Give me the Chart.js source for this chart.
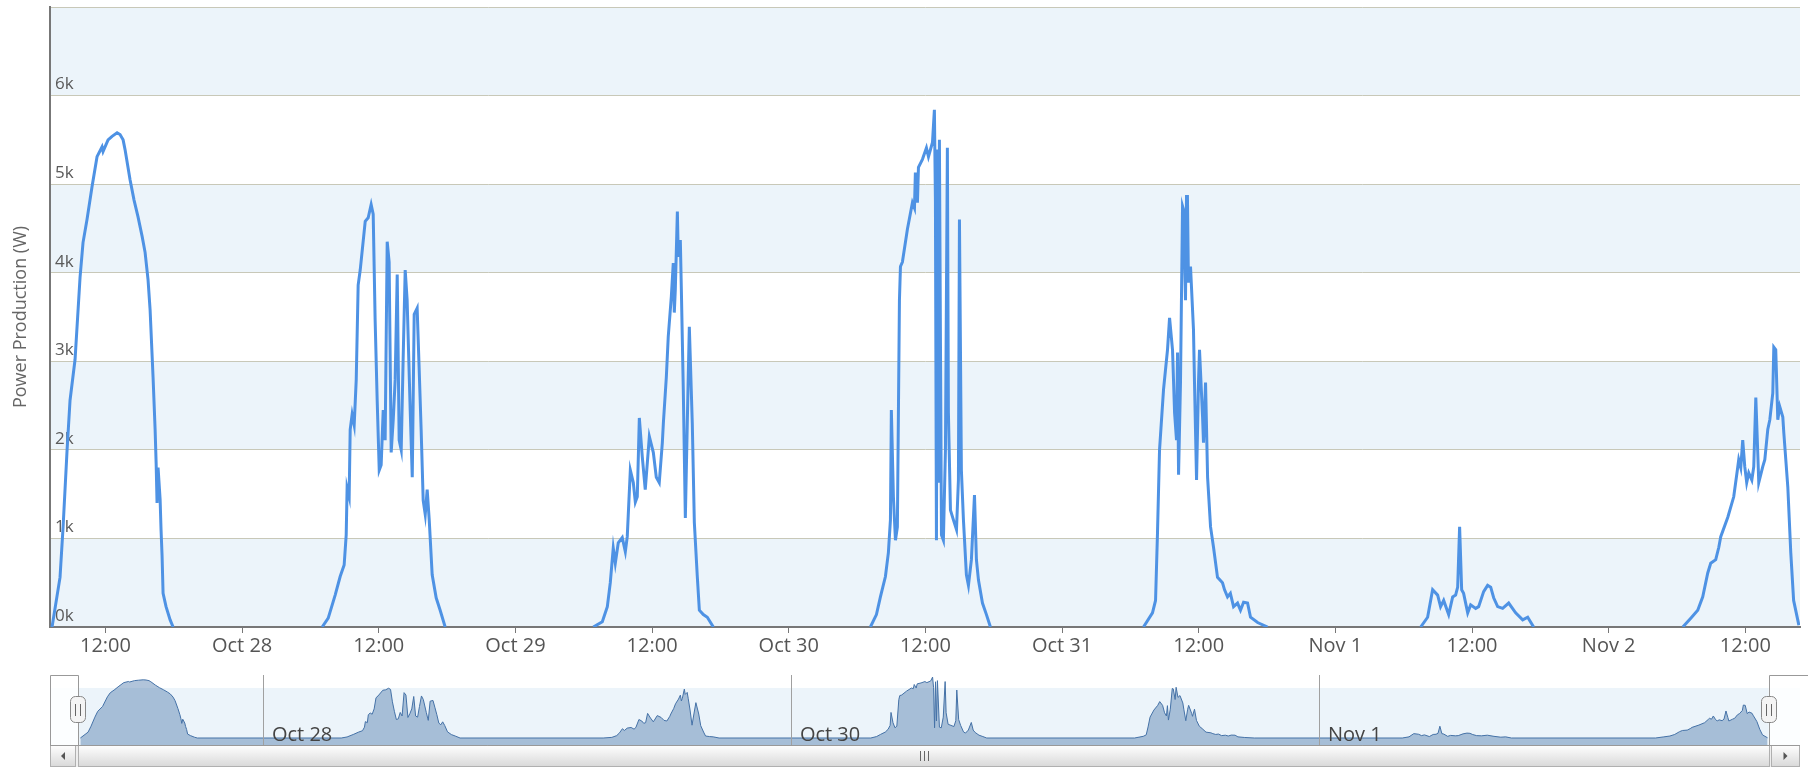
<!DOCTYPE html>
<html>
<head>
<meta charset="utf-8">
<script src="https://cdn.jsdelivr.net/npm/chart.js@4.4.0/dist/chart.umd.min.js"></script>
<style>
  body { margin: 0; background: #fff; }
  #main { position: absolute; left: 0; top: 0; }
  #nav { position: absolute; left: 0; top: 665px; }
</style>
</head>
<body>
<canvas id="main" width="1808" height="665"></canvas>
<canvas id="nav" width="1808" height="102"></canvas>
<script>
// one array per day: [hour of day, watts]
const dayLabels = ['Oct 27', 'Oct 28', 'Oct 29', 'Oct 30', 'Oct 31', 'Nov 1', 'Nov 2'];

const oct27 = [[7.31,0],[8.01,560],[8.28,1130],[8.63,2000],[8.89,2560],[9.33,3020],[9.77,3950],[10.03,4340],
  [10.38,4600],[10.82,4970],[11.26,5310],[11.70,5420],[11.79,5370],[12.23,5500],[12.58,5540],[13.02,5580],
  [13.28,5560],[13.55,5500],[13.72,5390],[14.16,5050],[14.51,4820],[14.86,4630],[15.22,4410],[15.48,4230],
  [15.74,3920],[15.92,3580],[16.18,2820],[16.36,2230],[16.45,1850],[16.53,1400],[16.62,1800],[16.80,1440],
  [16.88,1100],[16.97,810],[17.06,380],[17.32,230],[17.68,80],[17.94,0]];

const oct28 = [[7.03,0],[7.56,100],[8.17,360],[8.61,570],[8.96,700],[9.14,1040],[9.22,1570],[9.40,1470],
  [9.49,2230],[9.66,2400],[9.84,2280],[10.02,2790],[10.19,3860],[10.37,4030],[10.81,4580],[11.07,4620],
  [11.33,4770],[11.51,4660],[11.68,3470],[11.86,2560],[12.04,1770],[12.21,1830],[12.39,2450],[12.56,2110],
  [12.74,4350],[12.91,4120],[13.09,1970],[13.27,2340],[13.44,2790],[13.62,3980],[13.79,2110],[13.97,2000],
  [14.14,3020],[14.32,4030],[14.49,3690],[14.76,2450],[14.94,1690],[15.11,3530],[15.37,3600],[15.55,2900],
  [15.72,2230],[15.90,1430],[16.08,1270],[16.25,1550],[16.43,1210],[16.69,590],[17.04,330],[17.39,190],[17.83,0]];

const oct29 = [[6.84,0],[7.63,60],[8.07,230],[8.33,500],[8.59,890],[8.77,720],[9.03,950],[9.38,1010],
  [9.65,850],[9.82,1020],[10.09,1770],[10.35,1630],[10.53,1410],[10.70,1470],[10.88,2360],[11.14,1920],
  [11.40,1550],[11.76,2150],[12.11,1970],[12.37,1690],[12.63,1630],[12.90,2080],[12.99,2300],[13.25,2820],
  [13.42,3280],[13.69,3730],[13.86,4110],[13.95,3550],[14.04,3810],[14.22,4690],[14.30,4180],[14.48,4370],
  [14.57,3810],[14.74,2680],[14.92,1230],[15.09,2300],[15.27,3390],[15.53,2300],[15.71,1180],[15.97,570],
  [16.15,190],[16.50,140],[16.85,110],[17.38,0]];

const oct30 = [[7.17,0],[7.70,140],[8.05,340],[8.49,570],[8.75,840],[8.93,1210],[9.01,2450],[9.19,1470],
  [9.37,980],[9.54,1130],[9.72,3690],[9.81,4070],[9.98,4120],[10.42,4490],[10.86,4790],[11.04,4730],
  [11.12,5130],[11.30,4790],[11.39,5190],[11.74,5280],[12.09,5410],[12.27,5310],[12.62,5470],[12.79,5840],
  [12.88,4820],[12.97,980],[13.06,5390],[13.14,1630],[13.23,5500],[13.41,1040],[13.58,980],[13.76,2000],
  [13.93,5410],[14.02,2420],[14.20,1320],[14.46,1210],[14.73,1100],[14.90,1660],[14.99,4600],[15.16,1770],
  [15.34,1210],[15.60,590],[15.78,470],[16.04,760],[16.31,1490],[16.48,760],[16.66,530],[17.01,270],
  [17.36,140],[17.71,0]];

const oct31 = [[7.15,0],[7.94,160],[8.21,300],[8.38,1060],[8.56,2000],[8.91,2680],[9.26,3130],[9.44,3490],
  [9.70,3130],[9.88,2420],[10.05,2110],[10.14,3100],[10.23,1720],[10.40,2760],[10.58,4750],[10.67,4710],
  [10.84,3690],[10.93,4860],[11.01,4860],[11.10,3890],[11.28,4070],[11.54,3360],[11.63,2760],[11.81,1660],
  [11.98,2760],[12.07,3130],[12.34,2370],[12.42,2080],[12.60,2760],[12.78,1690],[13.04,1130],[13.30,900],
  [13.65,560],[14.09,500],[14.27,420],[14.53,340],[14.78,380],[15.06,230],[15.41,270],[15.67,190],
  [15.94,280],[16.29,270],[16.55,110],[17.17,50],[18.05,0]];

const nov1 = [[7.49,0],[8.10,110],[8.54,420],[8.98,360],[9.24,230],[9.51,300],[9.95,140],[10.30,340],
  [10.56,360],[10.74,450],[10.91,1130],[11.09,420],[11.26,380],[11.62,160],[11.88,250],[12.32,210],
  [12.58,230],[13.02,400],[13.37,470],[13.64,450],[13.90,330],[14.25,230],[14.69,210],[15.22,270],
  [15.83,160],[16.45,80],[16.89,110],[17.41,0]];

const nov2 = [[6.51,0],[7.21,100],[7.82,190],[8.26,340],[8.70,610],[8.96,720],[9.40,760],[9.67,900],
  [9.84,1020],[10.46,1240],[10.98,1470],[11.33,1800],[11.42,1890],[11.60,1800],[11.77,2110],[11.95,1810],
  [12.12,1630],[12.30,1740],[12.57,1660],[12.74,1810],[12.92,2590],[13.09,1970],[13.18,1630],[13.53,1810],
  [13.71,1890],[13.97,2230],[14.15,2340],[14.41,2640],[14.50,3160],[14.67,3130],[14.85,2340],[15.02,2490],
  [15.29,2370],[15.38,2190],[15.73,1580],[15.99,840],[16.24,300],[16.70,20]];

const days = [oct27, oct28, oct29, oct30, oct31, nov1, nov2];

// hours since Oct 27 00:00
const viewStart = 7.13, viewEnd = 160.8;
const navStart = 4.55, navEnd = 163.65;
const xTickHours = [12, 24, 36, 48, 60, 72, 84, 96, 108, 120, 132, 144, 156];
const navTickHours = [24, 72, 120];

Chart.defaults.font.family = "'Open Sans', 'Noto Sans', sans-serif";

const mainPoints = [];
const navPoints = [];
days.forEach((d, i) => {
    d.forEach(p => {
        mainPoints.push({x: i * 24 + p[0], y: p[1]});
        navPoints.push({x: i * 24 + p[0], y: p[1]});
    });
    mainPoints.push({x: i * 24 + 20, y: null});
});

const bandPlugin = {
    id: 'bands',
    beforeDraw(chart) {
        const {ctx, chartArea: a, scales: {y}} = chart;
        ctx.save();
        ctx.fillStyle = '#ecf4fa';
        for (let v = 0; v < y.max; v += 2000) {
            const top = y.getPixelForValue(v + 1000), bot = y.getPixelForValue(v);
            ctx.fillRect(a.left, top, a.right - a.left, bot - top);
        }
        ctx.restore();
    }
};

new Chart(document.getElementById('main'), {
    type: 'line',
    data: {
        datasets: [{
            data: mainPoints,
            borderColor: '#4e92e4',
            borderWidth: 3,
            pointRadius: 0,
            tension: 0,
            fill: false,
            spanGaps: false
        }]
    },
    options: {
        responsive: false,
        animation: false,
        events: [],
        layout: {padding: {top: 7, right: 8, left: 0, bottom: 0}},
        plugins: {legend: {display: false}, tooltip: {enabled: false}},
        scales: {
            x: {
                type: 'linear', min: viewStart, max: viewEnd,
                afterBuildTicks: s => { s.ticks = xTickHours.map(v => ({value: v})); },
                afterFit: s => { s.height = 38; s.paddingLeft = 0; s.paddingRight = 0; },
                grid: {drawOnChartArea: false, tickLength: 6, color: '#777'},
                border: {color: '#777', width: 2},
                ticks: {
                    color: '#555', font: {size: 20}, padding: 1, maxRotation: 0, autoSkip: false,
                    callback: v => v % 24 === 0 ? dayLabels[v / 24] : '12:00'
                }
            },
            y: {
                min: 0, max: 7000,
                afterFit: s => { s.width = 50; s.paddingTop = 0; s.paddingBottom = 0; },
                grid: {drawTicks: false, color: c => c.tick.value === 0 ? 'rgba(0,0,0,0)' : '#c8c8b8'},
                border: {color: '#777', width: 2},
                ticks: {
                    stepSize: 1000, mirror: true, padding: 5, labelOffset: -11,
                    color: '#5a5a5a', font: {size: 17},
                    callback: v => v >= 7000 ? '' : v / 1000 + 'k'
                },
                title: {display: true, text: 'Power Production (W)', color: '#666', font: {size: 18}, padding: {top: 10, bottom: 0}}
            }
        }
    },
    plugins: [bandPlugin]
});

const navPlugin = {
    id: 'navigator',
    beforeDraw(chart) {
        const {ctx, chartArea: a, scales: {y}} = chart;
        const top = y.getPixelForValue(4800);
        ctx.save();
        ctx.fillStyle = '#ecf4fa';
        ctx.fillRect(a.left, top, a.right - a.left, a.bottom - top);
        ctx.restore();
    },
    afterDatasetsDraw(chart) {
        const {ctx, chartArea: a, scales: {x}} = chart;
        const hl = x.getPixelForValue(viewStart), hr = x.getPixelForValue(viewEnd);
        ctx.save();
        ctx.fillStyle = 'rgba(255,255,255,0.85)';
        ctx.fillRect(a.left, a.top, hl - a.left, a.bottom - a.top);
        ctx.fillRect(hr, a.top, a.right - hr, a.bottom - a.top);
        ctx.restore();
    },
    afterDraw(chart) {
        const {ctx, chartArea: a, scales: {x}} = chart;
        const hl = Math.round(x.getPixelForValue(viewStart)), hr = Math.round(x.getPixelForValue(viewEnd));
        const sbTop = a.bottom, sbH = chart.height - a.bottom;
        ctx.save();
        // scrollbar track
        ctx.fillStyle = '#eeeeee';
        ctx.fillRect(a.left, sbTop, a.right - a.left, sbH);
        // thumb
        const g = ctx.createLinearGradient(0, sbTop, 0, sbTop + sbH);
        g.addColorStop(0, '#ffffff');
        g.addColorStop(1, '#d8d8d8');
        ctx.fillStyle = g;
        ctx.fillRect(hl, sbTop, hr - hl, sbH);
        ctx.strokeStyle = '#b0b0b0';
        ctx.lineWidth = 1;
        ctx.strokeRect(hl + 0.5, sbTop + 0.5, hr - hl, sbH - 1);
        // buttons
        [[a.left, hl - 2], [hr + 2, a.right]].forEach(([l, r]) => {
            ctx.fillStyle = g;
            ctx.fillRect(l, sbTop, r - l, sbH);
            ctx.strokeRect(l + 0.5, sbTop + 0.5, r - l - 1, sbH - 1);
        });
        ctx.fillStyle = '#555';
        const cy = sbTop + sbH / 2;
        const lx = (a.left + hl - 2) / 2, rx = (hr + 2 + a.right) / 2;
        ctx.beginPath();
        ctx.moveTo(lx - 2, cy); ctx.lineTo(lx + 2, cy - 4); ctx.lineTo(lx + 2, cy + 4); ctx.closePath();
        ctx.moveTo(rx + 2, cy); ctx.lineTo(rx - 2, cy - 4); ctx.lineTo(rx - 2, cy + 4); ctx.closePath();
        ctx.fill();
        // grip
        const mx = Math.round((hl + hr) / 2);
        ctx.strokeStyle = '#666';
        ctx.beginPath();
        [-4, 0, 4].forEach(d => { ctx.moveTo(mx + d + 0.5, cy - 5); ctx.lineTo(mx + d + 0.5, cy + 5); });
        ctx.stroke();
        // outline
        ctx.strokeStyle = '#999';
        ctx.beginPath();
        ctx.moveTo(a.left + 0.5, a.bottom);
        ctx.lineTo(a.left + 0.5, a.top + 0.5);
        ctx.lineTo(hl + 0.5, a.top + 0.5);
        ctx.lineTo(hl + 0.5, a.bottom);
        ctx.moveTo(a.left, a.bottom + 0.5);
        ctx.lineTo(a.right, a.bottom + 0.5);
        ctx.moveTo(hr + 0.5, a.bottom);
        ctx.lineTo(hr + 0.5, a.top + 0.5);
        ctx.lineTo(chart.width, a.top + 0.5);
        ctx.stroke();
        // handles
        const hy = (a.top + a.bottom) / 2;
        [hl, hr].forEach(hx => {
            ctx.beginPath();
            ctx.roundRect(hx - 7.5, hy - 13.5, 15, 26, 5);
            ctx.fillStyle = '#f4f4f4';
            ctx.fill();
            ctx.strokeStyle = '#888';
            ctx.stroke();
            ctx.beginPath();
            ctx.moveTo(hx - 2.5, hy - 6); ctx.lineTo(hx - 2.5, hy + 6);
            ctx.moveTo(hx + 2.5, hy - 6); ctx.lineTo(hx + 2.5, hy + 6);
            ctx.strokeStyle = '#666';
            ctx.stroke();
        });
        ctx.restore();
    }
};

new Chart(document.getElementById('nav'), {
    type: 'line',
    data: {
        datasets: [{
            data: navPoints,
            borderColor: '#4572a7',
            borderWidth: 1,
            backgroundColor: 'rgba(69,114,167,0.42)',
            fill: 'start',
            pointRadius: 0,
            tension: 0
        }]
    },
    options: {
        responsive: false,
        animation: false,
        events: [],
        layout: {padding: {top: 10, right: 8, left: 50, bottom: 0}},
        plugins: {legend: {display: false}, tooltip: {enabled: false}},
        scales: {
            x: {
                type: 'linear', min: navStart, max: navEnd,
                afterBuildTicks: s => { s.ticks = navTickHours.map(v => ({value: v})); },
                afterFit: s => { s.height = 22; s.paddingLeft = 0; s.paddingRight = 0; },
                grid: {drawTicks: false, color: '#a0a0a0', z: 1},
                border: {display: false},
                ticks: {
                    mirror: true, z: 1,
                    align: 'start', labelOffset: 8, padding: -2, color: '#444', font: {size: 20},
                    maxRotation: 0, autoSkip: false,
                    callback: v => dayLabels[v / 24]
                }
            },
            y: {display: false, min: -670, max: 6040}
        }
    },
    plugins: [navPlugin]
});
</script>
</body>
</html>
